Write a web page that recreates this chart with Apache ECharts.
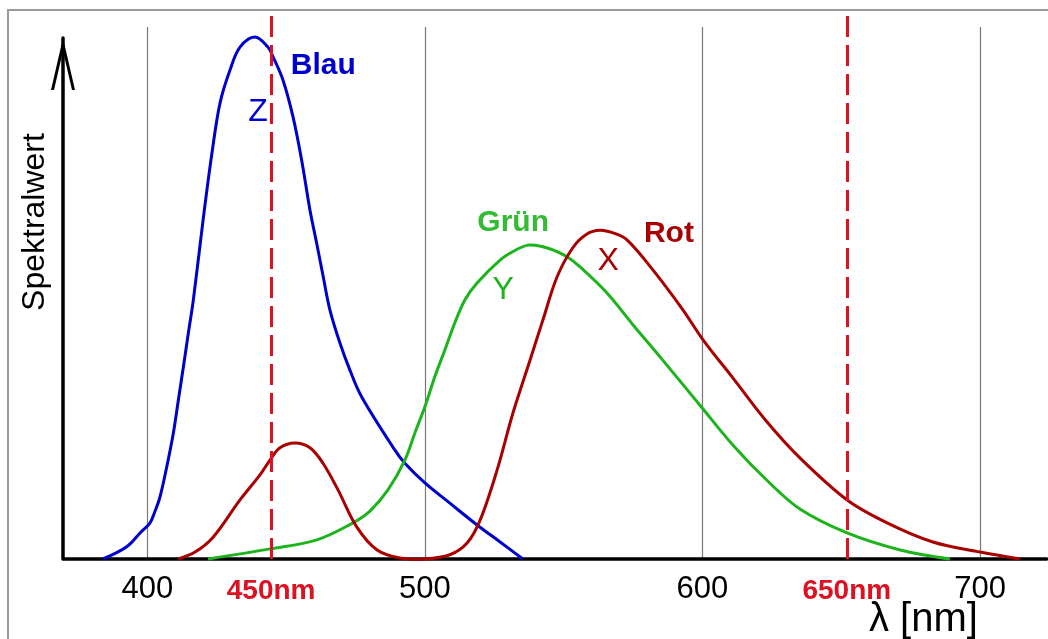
<!DOCTYPE html>
<html>
<head>
<meta charset="utf-8">
<script src="https://cdn.jsdelivr.net/npm/echarts@6/dist/echarts.min.js"></script>
<style>
html,body{margin:0;padding:0;background:#fff;}
#chart{width:1048px;height:639px;}
</style>
</head>
<body>
<div id="chart"></div>
<script>
// wavelength ticks (nm)
const wavelengthTicks = [400, 500, 600, 700];
const xMin = 370, xMax = 724;

// Z (Blau) curve: [wavelength nm, relative value]
const blueZ = [[384.0,0],[392.6,0.023],[397.4,0.049],[401.0,0.068],[402.8,0.090],[404.6,0.117],
  [407.0,0.173],[409.4,0.237],[411.2,0.299],[413.0,0.361],[414.8,0.425],[416.6,0.487],[420.1,0.637],
  [423.3,0.763],[426.2,0.857],[429.8,0.919],[433.4,0.962],[438.8,0.981],[443.5,0.962],[445.3,0.944],
  [448.9,0.900],[452.5,0.831],[455.6,0.750],[458.6,0.656],[461.0,0.594],[463.4,0.530],[465.8,0.468],
  [469.4,0.406],[473.0,0.355],[477.2,0.305],[488.9,0.207],[492.8,0.180],[500.0,0.143],
  [509.0,0.105],[518.8,0.064],[527.1,0.032],[535.3,0]];

// X (Rot) curve
const redX = [[411.1,0],[417.2,0.013],[423.7,0.041],[433.4,0.111],[440.6,0.158],[444.2,0.186],
  [447.8,0.209],[453.2,0.218],[458.6,0.209],[463.3,0.180],[468.7,0.130],[475.5,0.060],[482.8,0.017],
  [491.0,0.002],[500.0,0],[509.0,0.008],[515.2,0.030],[519.9,0.073],[526.0,0.167],[531.7,0.274],
  [537.9,0.374],[542.5,0.449],[547.6,0.530],[553.4,0.586],[558.4,0.611],[563.1,0.618],[567.8,0.613],
  [572.8,0.600],[582.2,0.543],[593.0,0.468],[600.2,0.412],[611.0,0.340],[623.2,0.258],[635.1,0.190],
  [652.1,0.111],[666.5,0.068],[683.0,0.032],[700.0,0.013],[714.4,0]];

// Y (Grün) curve
const greenY = [[421.9,0],[444.2,0.019],[461.1,0.036],[474.1,0.068],[480.2,0.090],[486.7,0.130],
  [492.8,0.186],[496.4,0.237],[500.0,0.286],[503.6,0.343],[507.2,0.393],[510.8,0.444],
  [514.4,0.487],[518.8,0.519],[527.1,0.562],[532.1,0.579],[537.1,0.590],[541.8,0.588],[546.1,0.581],
  [551.2,0.568],[555.9,0.549],[565.6,0.500],[575.0,0.440],[584.7,0.380],[600.2,0.282],[611.0,0.214],
  [623.2,0.148],[635.1,0.094],[652.1,0.049],[671.2,0.017],[689.2,0]];

// marked wavelengths (dashed lines) and their labels
const markerPositions = [444.6, 652.0];
const markerLabels = ['450nm', '650nm'];

// curve annotations: [name, wavelength, value, isColourName]
const blueNotes = [['Blau', 463.4, 0.928, true], ['Z', 439.9, 0.840, false]];
const greenNotes = [['Grün', 531.8, 0.633, true], ['Y', 528.2, 0.505, false]];
const redNotes = [['Rot', 587.9, 0.611, true], ['X', 566.0, 0.560, false]];

const FONT = 'Liberation Sans, Arial, Helvetica, sans-serif';
const COL_BLUE = '#0000cc', COL_GREEN = '#1db31d', COL_RED = '#a80000', COL_MARK = '#dd1122';

function notePoints(arr, color, textColor) {
  return arr.map(n => ({
    name: n[0], coord: [n[1], n[2]],
    label: {show: true, position: 'inside', formatter: '{b}', color: n[3] ? textColor : color,
      fontFamily: FONT, fontSize: n[3] ? 30 : 32, fontWeight: n[3] ? 'bold' : 'normal'}
  }));
}

// draws a smooth curve through all points of the series, positioned by the axes
function curve(color) {
  return function (params, api) {
    if (params.dataIndexInside !== 0) return null;
    const pts = [];
    for (let i = 0; i < params.dataInsideLength; i++) {
      pts.push(api.coord([api.value(0, i), api.value(1, i)]));
    }
    return {type: 'polyline', shape: {points: pts, smooth: 0.35},
      style: {stroke: color, lineWidth: 3, fill: null, lineJoin: 'round'}};
  };
}

const chart = echarts.init(document.getElementById('chart'), null, {renderer: 'canvas'});
const gridBase = {left: 64, right: 1048 - (64 + (xMax - xMin) * 2.776), bottom: 80,
  outerBoundsMode: 'none', containLabel: false};

chart.setOption({
  backgroundColor: '#ffffff',
  animation: false,
  grid: [
    Object.assign({top: 27}, gridBase),
    Object.assign({}, gridBase, {top: 38, left: 63}),
    Object.assign({top: 11}, gridBase)
  ],
  xAxis: [
    {type: 'value', gridIndex: 0, min: xMin, max: xMax,
      axisLine: {show: true, lineStyle: {color: '#000', width: 3.5}},
      axisTick: {show: false, customValues: wavelengthTicks},
      axisLabel: {show: true, customValues: wavelengthTicks, color: '#000', fontSize: 31, fontFamily: FONT, margin: 15},
      splitLine: {show: true, lineStyle: {color: '#777', width: 1.2}}
    },
    {type: 'value', gridIndex: 1, min: xMin - 1 / 2.776, max: xMax, show: false},
    {type: 'value', gridIndex: 2, min: xMin, max: xMax, show: false}
  ],
  yAxis: [
    {type: 'value', gridIndex: 0, min: 0, max: 1, show: false},
    {type: 'value', gridIndex: 1, min: 0, max: 1,
      axisLine: {show: true, lineStyle: {color: '#000', width: 3.5},
        symbol: ['none', 'path://M12 0 L24 52 L21 52 L12 13 L3 52 L0 52 Z'],
        symbolSize: [24, 52], symbolOffset: [0, -26]},
      axisTick: {show: false}, axisLabel: {show: false}, splitLine: {show: false}},
    {type: 'value', gridIndex: 2, min: 0, max: 1, show: false}
  ],
  graphic: [
    {type: 'rect', z: -1, shape: {x: 8, y: 10, width: 1200, height: 800},
      style: {fill: 'none', stroke: '#9a9a9a', lineWidth: 2}},
    {type: 'text', x: 35, y: 222, rotation: Math.PI / 2,
      style: {text: 'Spektralwert', fontSize: 32, fontFamily: FONT, fill: '#000', align: 'center', verticalAlign: 'middle'}},
    {type: 'text', x: 869, y: 620,
      style: {text: 'λ [nm]', fontSize: 40, fontFamily: FONT, fill: '#000', align: 'left', verticalAlign: 'middle'}}
  ],
  series: [
    {type: 'custom', name: 'Z', xAxisIndex: 0, yAxisIndex: 0, data: blueZ, renderItem: curve(COL_BLUE),
      encode: {x: 0, y: 1}, silent: true},
    {type: 'custom', name: 'Y', xAxisIndex: 0, yAxisIndex: 0, data: greenY, renderItem: curve(COL_GREEN),
      encode: {x: 0, y: 1}, silent: true},
    {type: 'custom', name: 'X', xAxisIndex: 0, yAxisIndex: 0, data: redX, renderItem: curve(COL_RED),
      encode: {x: 0, y: 1}, silent: true},
    {type: 'line', name: 'notes', xAxisIndex: 0, yAxisIndex: 0, data: [], silent: true,
      markPoint: {
        symbol: 'circle', symbolSize: 1, itemStyle: {color: 'rgba(0,0,0,0)'}, silent: true,
        data: notePoints(blueNotes, COL_BLUE, COL_BLUE)
          .concat(notePoints(greenNotes, COL_GREEN, '#33bb33'))
          .concat(notePoints(redNotes, COL_RED, COL_RED))
      }},
    {type: 'line', name: 'marks', xAxisIndex: 2, yAxisIndex: 2, data: [], silent: true,
      markLine: {
        symbol: ['none', 'none'], silent: true,
        lineStyle: {color: COL_MARK, width: 3, type: [21, 8]},
        label: {show: true, position: 'start', distance: 18, color: COL_MARK, fontSize: 28, fontWeight: 'bold', fontFamily: FONT, formatter: '{b}'},
        data: markerPositions.map((p, i) => [
          {name: markerLabels[i], coord: [p, 0]}, {coord: [p, 1]}
        ])
      }}
  ]
});
</script>
</body>
</html>
